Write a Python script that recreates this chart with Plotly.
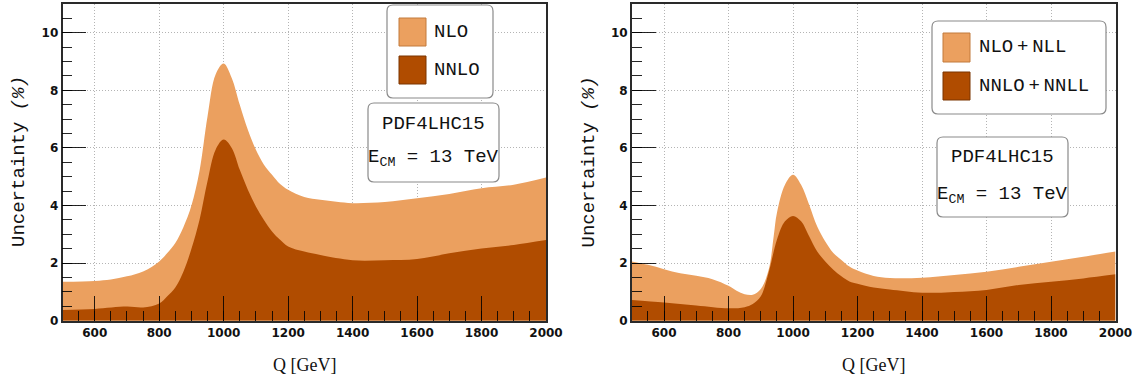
import plotly.graph_objects as go

W, H = 1137, 379

# ---- data: PDF uncertainty (%) versus invariant mass Q [GeV] ----
q_nlo = [500, 600, 650, 700, 750, 800, 825, 850, 875, 900, 925, 950, 975, 1000, 1025, 1050,
         1075, 1100, 1125, 1150, 1175, 1200, 1250, 1300, 1350, 1400, 1500, 1600, 1700, 1800, 1900, 2000]
unc_nlo = [1.35, 1.38, 1.43, 1.54, 1.71, 2.06, 2.35, 2.70, 3.25, 4.00, 5.20, 7.10, 8.55, 8.93, 8.43, 7.50,
           6.63, 5.94, 5.42, 5.07, 4.75, 4.55, 4.30, 4.20, 4.13, 4.08, 4.12, 4.25, 4.40, 4.60, 4.72, 4.97]

q_nnlo = [500, 600, 700, 750, 800, 825, 850, 875, 900, 925, 950, 975, 1000, 1025, 1050, 1075,
          1100, 1125, 1150, 1175, 1200, 1250, 1300, 1400, 1500, 1600, 1700, 1800, 1900, 2000]
unc_nnlo = [0.37, 0.41, 0.49, 0.46, 0.60, 0.85, 1.15, 1.70, 2.50, 3.50, 4.85, 5.94, 6.29, 6.00, 5.24, 4.55,
            3.97, 3.50, 3.10, 2.81, 2.58, 2.40, 2.28, 2.10, 2.10, 2.14, 2.34, 2.51, 2.63, 2.80]

q_nll = [500, 550, 600, 650, 700, 750, 800, 825, 850, 875, 900, 925, 940, 950, 975, 1000, 1025, 1050,
         1075, 1100, 1125, 1150, 1175, 1200, 1250, 1300, 1400, 1500, 1600, 1700, 1800, 1900, 2000]
unc_nll = [2.06, 1.94, 1.79, 1.65, 1.56, 1.44, 1.21, 1.04, 0.92, 0.90, 1.10, 1.80, 2.93, 3.74, 4.72, 5.07, 4.72, 4.03,
           3.27, 2.75, 2.35, 2.11, 1.88, 1.74, 1.55, 1.48, 1.49, 1.59, 1.70, 1.87, 2.05, 2.22, 2.40]

q_nnll = [500, 600, 700, 800, 850, 875, 900, 925, 950, 975, 1000, 1025, 1050, 1075, 1100,
          1125, 1150, 1175, 1200, 1250, 1300, 1400, 1500, 1600, 1700, 1800, 1900, 2000]
unc_nnll = [0.72, 0.63, 0.53, 0.43, 0.47, 0.58, 0.85, 1.70, 2.81, 3.45, 3.64, 3.45, 2.93, 2.40, 2.06,
            1.77, 1.54, 1.36, 1.28, 1.15, 1.08, 0.97, 1.00, 1.07, 1.24, 1.35, 1.47, 1.61]

x_ticks = [600, 800, 1000, 1200, 1400, 1600, 1800, 2000]
y_ticks = [0, 2, 4, 6, 8, 10]

LIGHT = "#EBA05F"
DARK = "#B04C00"
LIGHT_EDGE = "#C27A3C"
DARK_EDGE = "#7A3400"
MONO = "Liberation Mono"


def px(x):
    return x / W


def py(y):
    return 1 - y / H


fig = go.Figure()


def band(x, y, color, xa, ya):
    fig.add_trace(go.Scatter(
        x=x, y=y, mode="lines", fill="tozeroy", fillcolor=color,
        line=dict(width=0, shape="spline", smoothing=1.0, color=color),
        xaxis=xa, yaxis=ya, showlegend=False, hoverinfo="skip"))


band(q_nlo, unc_nlo, LIGHT, "x", "y")
band(q_nnlo, unc_nnlo, DARK, "x", "y")
band(q_nll, unc_nll, LIGHT, "x2", "y2")
band(q_nnll, unc_nnll, DARK, "x2", "y2")

y_dom = [py(320.7), py(4)]
tickfont = dict(family="DejaVu Sans", size=12, color="#111", weight="bold")
TICK_COLOR = "rgba(0,0,0,0.85)"


def common_axis():
    return dict(ticks="inside", tickwidth=1.3, tickcolor=TICK_COLOR,
                showgrid=True, gridcolor="#b4b4b4", griddash="1px,2px", gridwidth=1,
                zeroline=False, showline=True, linecolor="#2a2a2a", linewidth=1.6,
                mirror=True, tickfont=tickfont, layer="above traces", automargin=False)


def xaxis(dom, anchor):
    ax = common_axis()
    ax.update(domain=dom, anchor=anchor, range=[500, 2000], tickvals=x_ticks, ticklen=25,
              minor=dict(ticks="inside", ticklen=10, tickwidth=1.2, dtick=50, tick0=0,
                         tickcolor=TICK_COLOR, showgrid=False))
    return ax


def yaxis(anchor):
    ax = common_axis()
    ax.update(domain=y_dom, anchor=anchor, range=[0, 11], tickvals=y_ticks, ticklen=24,
              minor=dict(ticks="inside", ticklen=10, tickwidth=1.2, dtick=0.5, tick0=0,
                         tickcolor=TICK_COLOR, showgrid=False))
    return ax


shapes = []
annotations = []


def rounded_box(x0, y0, x1, y1, r=6):
    pts = (f"M {px(x0 + r)},{py(y0)} L {px(x1 - r)},{py(y0)} "
           f"Q {px(x1)},{py(y0)} {px(x1)},{py(y0 + r)} L {px(x1)},{py(y1 - r)} "
           f"Q {px(x1)},{py(y1)} {px(x1 - r)},{py(y1)} L {px(x0 + r)},{py(y1)} "
           f"Q {px(x0)},{py(y1)} {px(x0)},{py(y1 - r)} L {px(x0)},{py(y0 + r)} "
           f"Q {px(x0)},{py(y0)} {px(x0 + r)},{py(y0)} Z")
    shapes.append(dict(type="path", path=pts, xref="paper", yref="paper",
                       fillcolor="white", line=dict(color="#8a8a8a", width=1.2),
                       layer="above"))


def swatch(x0, y0, x1, y1, fill, edge):
    shapes.append(dict(type="rect", xref="paper", yref="paper",
                       x0=px(x0), x1=px(x1), y0=py(y1), y1=py(y0),
                       fillcolor=fill, line=dict(color=edge, width=1), layer="above"))


def text(x, y, s, xanchor="left", size=19, family=MONO, angle=0):
    annotations.append(dict(x=px(x), y=py(y), xref="paper", yref="paper", text=s,
                            showarrow=False, xanchor=xanchor, yanchor="middle",
                            textangle=angle, font=dict(family=family, size=size, color="#111")))


# left panel legend and info box
rounded_box(387, 5, 493, 98)
swatch(399, 18, 426, 46, LIGHT, LIGHT_EDGE)
swatch(399, 56, 426, 84, DARK, DARK_EDGE)
text(432, 32, "NLO")
text(432, 70, "NNLO")
rounded_box(368, 103, 499, 182)
text(433.5, 124, "PDF4LHC15", "center")
text(433.5, 158, "E<sub>CM</sub> = 13 TeV", "center")

# right panel legend and info box
rounded_box(932, 21, 1106, 114)
swatch(943, 33, 970, 62, LIGHT, LIGHT_EDGE)
swatch(943, 72, 970, 100, DARK, DARK_EDGE)
text(977, 47, "NLO\u2009+\u2009NLL")
text(977, 86, "NNLO\u2009+\u2009NNLL")
rounded_box(937, 137, 1068, 217)
text(1002.5, 157, "PDF4LHC15", "center")
text(1002.5, 195, "E<sub>CM</sub> = 13 TeV", "center")

# axis titles
for cx in (304, 873.6):
    text(cx, 365, "Q [GeV]", "center", size=18, family="Liberation Serif")
for cx in (19, 588.5):
    text(cx, 162, "Uncertainty <i>(%)</i>", "center", size=19, angle=-90)

fig.update_layout(
    width=W, height=H, autosize=False,
    margin=dict(l=0, r=0, t=0, b=0),
    paper_bgcolor="white", plot_bgcolor="white",
    xaxis=xaxis([px(62.5), px(546)], "y"),
    yaxis=yaxis("x"),
    xaxis2=xaxis([px(631.8), px(1115.5)], "y2"),
    yaxis2=yaxis("x2"),
    shapes=shapes, annotations=annotations, showlegend=False,
)

fig.write_html("out.html")
